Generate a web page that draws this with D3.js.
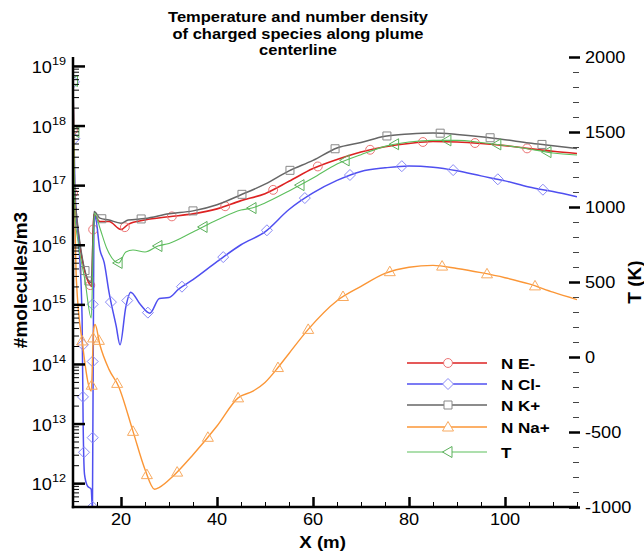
<!DOCTYPE html>
<html lang="en">
<head>
<meta charset="UTF-8">
<title>Temperature and number density of charged species along plume centerline</title>
<script src="https://cdnjs.cloudflare.com/ajax/libs/d3/7.8.5/d3.min.js"></script>
<style>
  body { margin: 0; background: #fff; }
  svg text { font-family: "Liberation Sans", Arial, sans-serif; fill: #000; }
</style>
</head>
<body>
<div id="chart"></div>
<script>
// ---- data ----
// number densities (#/m3) on the left log axis, T (K) on the right axis
const eX  = [10, 10.3, 13.6, 13.9, 14.3, 15.6, 17.5, 20, 21.5, 25, 30, 35, 40, 45, 50, 55, 60, 65, 70, 75, 80, 85, 90, 95, 100, 105, 110, 115];
const eN  = [6e18, 6e16, 2.1e15, 2.0e15, 3.2e16, 2.45e16, 2.45e16, 1.8e16, 2.2e16, 2.6e16, 2.95e16, 3.3e16, 4.0e16, 5.5e16, 7.2e16, 1.16e17, 1.9e17, 2.7e17, 3.6e17, 4.4e17, 5.0e17, 5.4e17, 5.3e17, 5.0e17, 4.6e17, 4.1e17, 3.7e17, 3.4e17];

const clX = [10, 10.4, 11.3, 11.9, 12.1, 12.4, 13.0, 13.8, 14.05, 14.35, 14.6, 15.6, 16.5, 17.5, 19.0, 19.8, 21, 22, 24, 26, 28, 30, 32, 35, 40, 45, 50, 55, 60, 65, 70, 75, 80, 85, 90, 95, 100, 105, 110, 115];
const clN = [5e18, 9.3e16, 8.3e15, 5.6e14, 1.2e13, 1.4e12, 9e11, 7.9e11, 3.5e11, 1.8e16, 3.0e16, 8.3e15, 5.0e15, 1.6e15, 4.3e14, 2.1e14, 9e14, 1.6e15, 1.0e15, 7.1e14, 1.25e15, 1.3e15, 1.8e15, 2.6e15, 5.2e15, 1.0e16, 1.65e16, 3.9e16, 7.4e16, 1.2e17, 1.7e17, 1.95e17, 2.1e17, 2.0e17, 1.74e17, 1.43e17, 1.18e17, 9.3e16, 7.8e16, 6.4e16];

const kX  = [10, 10.4, 13.8, 14.4, 15.6, 17.5, 20, 21.5, 25, 30, 35, 40, 45, 50, 55, 60, 65, 70, 75, 80, 85, 90, 95, 100, 105, 110, 115];
const kN  = [8e18, 5.8e16, 2.3e15, 3.6e16, 2.8e16, 2.6e16, 2.3e16, 2.6e16, 2.75e16, 3.3e16, 3.7e16, 4.7e16, 6.9e16, 1.04e17, 1.74e17, 2.6e17, 4.2e17, 5.2e17, 6.6e17, 7.2e17, 7.5e17, 7.1e17, 6.5e17, 5.8e17, 5.1e17, 4.6e17, 4.1e17];

const naX = [10, 10.7, 12, 13.8, 14.3, 14.6, 15.6, 17.5, 19.5, 22.5, 25, 27, 28, 31, 35, 40, 44.4, 47.5, 50, 52.7, 55, 59, 65, 70, 75, 80, 85, 90, 95, 100, 105, 110, 115];
const naN = [7.6e18, 2.6e15, 2.1e14, 3.5e13, 3.8e14, 4.6e14, 2.1e14, 8.1e13, 4.2e13, 7.4e12, 1.7e12, 7.9e11, 8.5e11, 1.35e12, 3.0e12, 9.1e12, 2.7e13, 3.5e13, 4.9e13, 8.7e13, 1.5e14, 3.8e14, 1.15e15, 2.0e15, 3.3e15, 4.2e15, 4.5e15, 4.0e15, 3.4e15, 2.8e15, 2.2e15, 1.6e15, 1.2e15];

const tX  = [10, 10.4, 11, 12.5, 13.8, 14.2, 14.5, 15.6, 17, 19.5, 21, 22.5, 25, 27.7, 30, 35, 40, 45, 47.3, 50, 55, 60, 65, 70, 75, 80, 85, 90, 95, 100, 105, 110, 115];
const tT  = [1950, 950, 780, 510, 260, 710, 960, 860, 727, 627, 700, 713, 700, 740, 757, 833, 913, 980, 993, 1027, 1107, 1193, 1287, 1349, 1404, 1433, 1444, 1444, 1430, 1410, 1387, 1360, 1347];

// symbol positions (x along the curve), plus a few read directly near the nozzle
const eMarkX  = [20.8, 30.6, 41.7, 51.7, 61, 71.9, 82.9, 93.75, 104.6];
const eMarkPts = [[10, 8.5e17], [10, 7.4e16], [13.6, 2.1e15], [14.2, 1.8e16]];
const clMarkX = [17.9, 21.3, 25.6, 32.7, 41.3, 50.4, 58.3, 67.7, 78.5, 89.2, 98.5, 107.9];
const clMarkPts = [[10.2, 5.4e18], [10.3, 6e17], [12.08, 2.1e14], [12.08, 2.8e13], [12.3, 3.3e12], [14.1, 4e11], [14.1, 5.8e12], [14.1, 1.1e14], [14.1, 1.0e15]];
const kMarkX  = [12.5, 13.3, 16, 24.2, 35, 45.2, 55.2, 64.6, 75.4, 86.5, 96.9, 107.7];
const kMarkPts = [];
const naMarkX = [11.9, 13.9, 14.2, 15.4, 19.2, 22.5, 25.4, 31.7, 38.1, 44.4, 52.7, 59, 66.25, 76, 86.9, 96.25, 106.25];
const naMarkPts = [];
const tMarkX  = [19.4, 27.7, 37.1, 47.3, 57.3, 66.7, 77, 87.9, 98.3, 108.75];
const tMarkPts = [[10.1, 1840], [10.4, 1500]];

const xTicks = [20, 40, 60, 80, 100];
const nTicks = [1e12, 1e13, 1e14, 1e15, 1e16, 1e17, 1e18, 1e19];
const tTicks = [-1000, -500, 0, 500, 1000, 1500, 2000];
const legendNames = ["N E-", "N Cl-", "N K+", "N Na+", "T"];

// ---- layout ----
const width = 644, height = 553;
const L = 73, R = 577, T = 57, B = 507;
const SX = 1.1; // reference text is a little wider than the font

const x  = d3.scaleLinear().domain([10, 115]).range([L, R]);
const yN = d3.scaleLog().domain([Math.pow(10, 11.6), Math.pow(10, 19.15)]).range([B, T]);
const yT = d3.scaleLinear().domain([-1000, 2000]).range([B, T]);

const svg = d3.select("#chart").append("svg")
  .attr("width", width).attr("height", height);

svg.append("defs").append("clipPath").attr("id", "plot")
  .append("rect").attr("x", L).attr("y", T - 2).attr("width", R - L).attr("height", B - T + 2);

function text(g, px, py, str, size, opts = {}) {
  const t = g.append("text")
    .attr("transform", `translate(${px},${py}) ${opts.rotate ? "rotate(-90)" : ""} scale(${opts.rotate ? 1 : SX},1)`)
    .attr("font-size", size)
    .attr("font-weight", opts.bold ? "bold" : null)
    .attr("text-anchor", opts.anchor || "start")
    .text(str);
  return t;
}

// title
const title = ["Temperature and number density", "of charged species along plume", "centerline"];
title.forEach((s, i) => text(svg, 298, 22 + i * 16.5, s, 15, {bold: true, anchor: "middle"}));

const shapes = {
  circle: d3.symbol(d3.symbolCircle, 62)(),
  square: "M-4,-4h8v8h-8z",
  diamond: "M0,-5.5L5.5,0L0,5.5L-5.5,0Z",
  triUp: "M0,-5.5L5.5,4L-5.5,4Z",
  triLeft: "M-5.5,0L4,-5.5L4,5.5Z"
};

const series = [
  {xs: eX,  vs: eN,  y: yN, line: "#dd2222", mark: "#ec7474", shape: "circle",  w: 1.6, mx: eMarkX,  pts: eMarkPts},
  {xs: clX, vs: clN, y: yN, line: "#4f4ff0", mark: "#8a8af6", shape: "diamond", w: 1.5, mx: clMarkX, pts: clMarkPts},
  {xs: kX,  vs: kN,  y: yN, line: "#666666", mark: "#888888", shape: "square",  w: 1.5, mx: kMarkX,  pts: kMarkPts},
  {xs: naX, vs: naN, y: yN, line: "#fb9636", mark: "#f8aa60", shape: "triUp",   w: 1.4, mx: naMarkX, pts: naMarkPts},
  {xs: tX,  vs: tT,  y: yT, line: "#5cbf5c", mark: "#5cb05c", shape: "triLeft", w: 1.1, mx: tMarkX,  pts: tMarkPts}
];

const plotG = svg.append("g").attr("clip-path", "url(#plot)");

function pointAtX(node, px) {
  let lo = 0, hi = node.getTotalLength();
  for (let i = 0; i < 40; i++) {
    const mid = (lo + hi) / 2;
    if (node.getPointAtLength(mid).x < px) lo = mid; else hi = mid;
  }
  return node.getPointAtLength(hi);
}

series.forEach(s => {
  const data = s.xs.map((d, i) => [d, s.vs[i]]);
  const line = d3.line().x(d => x(d[0])).y(d => s.y(d[1])).curve(d3.curveMonotoneX);
  const path = plotG.append("path").datum(data)
    .attr("d", line)
    .attr("fill", "none")
    .attr("stroke", s.line)
    .attr("stroke-width", s.w);
  const node = path.node();
  const pts = s.mx.map(mx => pointAtX(node, x(mx)))
    .concat(s.pts.map(p => ({x: x(p[0]), y: s.y(p[1])})));
  plotG.selectAll(null).data(pts).join("path")
    .attr("d", shapes[s.shape])
    .attr("transform", d => `translate(${d.x},${d.y})`)
    .attr("fill", "none")
    .attr("stroke", s.mark)
    .attr("stroke-width", 1);
});

// ---- axes ----
function styleTicks(g, w, color) {
  g.select(".domain").remove();
  g.selectAll(".tick line").attr("stroke", color || "#000").attr("stroke-width", w);
  g.selectAll(".tick text").remove();
}

// left log axis (ticks pointing into the plot)
const nMinor = [];
for (let e = 11; e <= 19; e++) for (let m = 2; m <= 9; m++) {
  const v = m * Math.pow(10, e);
  if (v >= yN.domain()[0] && v <= yN.domain()[1]) nMinor.push(v);
}
svg.append("g").attr("transform", `translate(${L},0)`)
  .call(d3.axisRight(yN).tickValues(nMinor).tickSize(6)).call(g => styleTicks(g, 1));
svg.append("g").attr("transform", `translate(${L},0)`)
  .call(d3.axisRight(yN).tickValues(nTicks).tickSize(12)).call(g => styleTicks(g, 2.5));

// bottom axis
const xMinor = d3.range(15, 116, 5).filter(v => !xTicks.includes(v));
svg.append("g").attr("transform", `translate(0,${B})`)
  .call(d3.axisTop(x).tickValues(xMinor).tickSize(5)).call(g => styleTicks(g, 1));
svg.append("g").attr("transform", `translate(0,${B})`)
  .call(d3.axisTop(x).tickValues(xTicks).tickSize(10)).call(g => styleTicks(g, 2.5));

// right T axis: ticks only, no axis line
const tMinor = d3.range(-900, 2000, 100).filter(v => !tTicks.includes(v));
svg.append("g").attr("transform", `translate(579,0)`)
  .call(d3.axisLeft(yT).tickValues(tMinor).tickSize(6)).call(g => styleTicks(g, 1, "#444"));
svg.append("g").attr("transform", `translate(580,0)`)
  .call(d3.axisLeft(yT).tickValues(tTicks).tickSize(11)).call(g => styleTicks(g, 2.5));

// axis lines
svg.append("line").attr("x1", L).attr("x2", L).attr("y1", T).attr("y2", B + 1.2)
  .attr("stroke", "#000").attr("stroke-width", 2.5);
svg.append("line").attr("x1", L - 1.2).attr("x2", R).attr("y1", B).attr("y2", B)
  .attr("stroke", "#000").attr("stroke-width", 2.5);

// tick labels
nTicks.forEach(v => {
  const t = text(svg, 66, yN(v) + 7, "", 16.5, {anchor: "end"});
  t.append("tspan").text("10");
  t.append("tspan").attr("dy", -8).attr("font-size", 11.5).text(Math.round(Math.log10(v)));
});
xTicks.forEach(v => text(svg, x(v), 525, v, 16.5, {anchor: "middle"}));
tTicks.forEach(v => text(svg, 585, yT(v) + 6, v, 16.5));

// axis titles
text(svg, x(62), 548, "X (m)", 17, {bold: true, anchor: "middle"});
text(svg, 27, 280, "#molecules/m3", 19, {bold: true, anchor: "middle", rotate: true});
text(svg, 641, 282, "T (K)", 19, {bold: true, anchor: "middle", rotate: true});

// legend
const legY = [363, 384, 405, 427, 452];
series.forEach((s, i) => {
  const g = svg.append("g");
  g.append("line").attr("x1", 407).attr("x2", 487).attr("y1", legY[i]).attr("y2", legY[i])
    .attr("stroke", s.line).attr("stroke-width", s.w);
  g.append("path").attr("d", shapes[s.shape]).attr("transform", `translate(448,${legY[i]})`)
    .attr("fill", "#fff").attr("stroke", s.mark).attr("stroke-width", 1);
  text(g, 501, legY[i] + 6, legendNames[i], 15.5, {bold: true});
});
</script>
</body>
</html>
